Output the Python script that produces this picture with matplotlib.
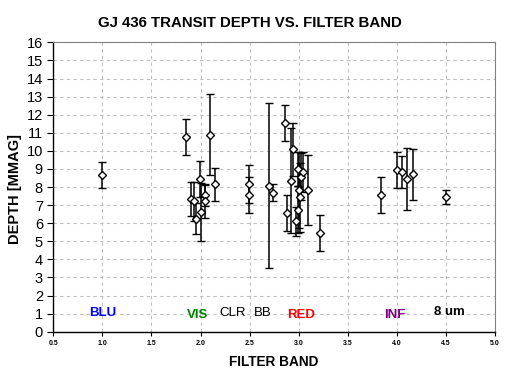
import matplotlib.pyplot as plt

plt.rcParams["font.family"] = ["Liberation Sans", "DejaVu Sans"]

# Transit depth measurements by filter band
band = [1.00,
        1.85, 1.90, 1.93, 1.95, 1.99, 2.00, 2.04, 2.04, 2.10, 2.15,
        2.49, 2.49, 2.70, 2.74,
        2.86, 2.88, 2.92, 2.94, 2.97, 2.99, 2.99, 3.00, 3.01, 3.02, 3.04, 3.09, 3.22,
        3.84, 4.00, 4.05, 4.10, 4.16,
        4.50]
depth = [8.65,
         10.75, 7.35, 7.2, 6.25, 8.45, 6.6, 7.55, 7.2, 10.9, 8.15,
         8.15, 7.56, 8.08, 7.68,
         11.55, 6.55, 8.35, 10.08, 6.1, 6.73, 8.98, 7.83, 7.43, 8.57, 8.85, 7.83, 5.45,
         7.55, 8.92, 8.83, 8.44, 8.7,
         7.45]
err = [0.72,
       1.0, 0.95, 1.1, 0.85, 1.0, 1.6, 0.6, 0.9, 2.25, 0.9,
       1.05, 1.0, 4.55, 0.48,
       1.0, 1.0, 2.9, 1.45, 0.8, 1.3, 0.95, 2.1, 1.9, 1.3, 1.1, 1.95, 1.0,
       1.0, 1.0, 0.9, 1.7, 1.4,
       0.37]

labels = ["BLU", "VIS", "CLR", "BB", "RED", "INF", "8 um"]
label_x = [1.0, 1.97, 2.33, 2.635, 3.02, 3.976, 4.53]
label_y = [1.02, 0.92, 1.02, 1.02, 0.92, 0.92, 1.08]
label_colors = ["#0000ff", "#008000", "black", "black", "#ff0000", "#800080", "black"]
label_weights = ["bold", "bold", "normal", "normal", "bold", "bold", "bold"]

fig = plt.figure(figsize=(5.1, 3.78), dpi=100)
ax = fig.add_axes([0.1045, 0.1225, 0.8665, 0.7655])

ax.errorbar(band, depth, yerr=err, fmt="D", ms=4.5, mfc="white", mec="black",
            mew=1.0, ecolor="black", elinewidth=1.1, capsize=3.2, capthick=1.1,
            zorder=3)

for t, x, y, c, w in zip(labels, label_x, label_y, label_colors, label_weights):
    ax.text(x, y, t, color=c, fontsize=9.5, fontweight=w,
            ha="center", va="center")

ax.set_xlim(0.5, 5.0)
ax.set_ylim(0, 16)
ax.set_xticks([0.5 + 0.5 * i for i in range(10)])
ax.set_yticks(range(17))
ax.set_xticklabels([f"{0.5 + 0.5 * i:.1f}" for i in range(10)], fontsize=5,
                   fontweight="bold")
ax.tick_params(axis="y", labelsize=10.5, length=4, width=0.8)
ax.tick_params(axis="x", length=3, width=0.8, pad=3)
ax.grid(True, color="#c0c0c0", linestyle=(0, (3, 3)), linewidth=0.8)
ax.set_axisbelow(True)

for s in ["top", "right"]:
    ax.spines[s].set_color("#808080")
for s in ["left", "bottom"]:
    ax.spines[s].set_color("black")
    ax.spines[s].set_linewidth(1.0)

fig.text(0.49, 0.94, "GJ 436 TRANSIT DEPTH VS. FILTER BAND", ha="center",
         va="center", fontsize=10.8, fontweight="bold")
fig.text(0.537, 0.043, "FILTER BAND", ha="center", va="center", fontsize=9.8,
         fontweight="bold")
fig.text(0.03, 0.5, "DEPTH [MMAG]", ha="center", va="center", fontsize=10.5,
         fontweight="bold", rotation=90)

fig.savefig("out.png", dpi=100)
